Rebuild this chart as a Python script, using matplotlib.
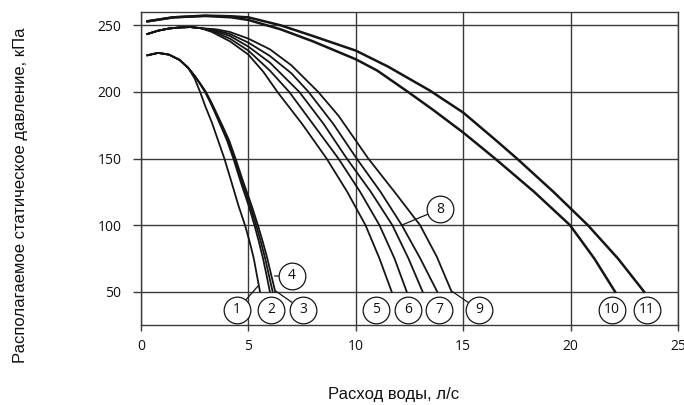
import matplotlib
matplotlib.use("Agg")
import matplotlib.pyplot as plt

# ---------------- data (flow l/s, pressure kPa) ----------------
c1_q = [0.3, 0.8, 1.3, 1.8, 2.2, 2.5, 2.75, 3.0, 3.3, 3.58, 3.88, 4.2, 4.53, 4.84, 5.05, 5.25, 5.4, 5.54]
c1_p = [227.5, 229.3, 228, 224, 218, 210, 200, 189, 177, 164, 150, 133, 115, 100, 88, 75, 62, 50]

c2_q = [0.3, 0.8, 1.3, 1.8, 2.2, 2.5, 2.75, 2.98, 3.2, 3.4, 3.7, 4.0, 4.3, 4.65, 5.03, 5.28, 5.48, 5.68, 5.85, 6.0]
c2_p = [227.5, 229.3, 228, 224, 218, 212, 206, 200, 193, 186, 175, 163.75, 150, 132, 113.75, 100, 88, 75, 62, 50]

c3_q = [0.3, 0.8, 1.3, 1.8, 2.2, 2.5, 2.76, 3.0, 3.22, 3.43, 3.74, 4.05, 4.35, 4.71, 5.1, 5.36, 5.57, 5.78, 5.96, 6.13]
c3_p = [227.5, 229.3, 228, 224, 218, 212, 206, 200, 193, 186, 175, 163.75, 150, 132, 113.75, 100, 88, 75, 62, 50]

c4_q = [0.3, 0.8, 1.3, 1.8, 2.2, 2.5, 2.77, 3.02, 3.25, 3.46, 3.78, 4.1, 4.4, 4.77, 5.17, 5.44, 5.66, 5.88, 6.07, 6.25]
c4_p = [227.5, 229.3, 228, 224, 218, 212, 206, 200, 193, 186, 175, 163.75, 150, 132, 113.75, 100, 88, 75, 62, 50]

c5_q = [0.3, 0.8, 1.3, 1.8, 2.3, 2.8, 3.3, 4.14, 5.0, 5.7, 6.35, 7.5, 8.64, 9.6, 10.45, 11.1, 11.67]
c5_p = [243.5, 246, 247.6, 248.4, 248.7, 247.8, 245, 238, 228, 215, 200, 176, 150, 125, 100, 75, 50]

c6_q = [0.3, 0.8, 1.3, 1.8, 2.3, 2.8, 3.35, 4.14, 5.0, 6.0, 6.9, 8.0, 9.19, 10.2, 11.1, 11.8, 12.37]
c6_p = [243.5, 246, 247.6, 248.4, 248.7, 247.8, 245.5, 240, 231, 216, 200, 176, 150, 125, 100, 75, 50]

c7_q = [0.3, 0.8, 1.3, 1.8, 2.3, 2.8, 3.4, 4.14, 5.0, 6.0, 7.37, 8.5, 9.58, 10.7, 11.7, 12.45, 13.11]
c7_p = [243.5, 246, 247.6, 248.4, 248.7, 247.8, 246, 242, 234, 222, 200, 176, 150, 125, 100, 75, 50]

c8_q = [0.3, 0.8, 1.3, 1.8, 2.3, 2.8, 3.45, 4.14, 5.0, 6.0, 7.0, 7.8, 8.95, 10.04, 11.15, 12.14, 13.0, 13.79]
c8_p = [243.5, 246, 247.6, 248.4, 248.7, 247.8, 246.5, 243.5, 237, 227, 214, 200, 176, 150, 125, 100, 75, 50]

c9_q = [0.3, 0.8, 1.3, 1.8, 2.3, 2.8, 3.5, 4.14, 5.0, 6.0, 7.0, 8.25, 9.2, 10.58, 11.8, 12.99, 13.77, 14.23, 14.46]
c9_p = [243.5, 246, 247.6, 248.4, 248.7, 247.8, 247, 245, 240, 232, 220, 200, 182, 150, 125, 100, 76.3, 58.75, 50]

c10_q = [0.3, 1.5, 3.0, 4.2, 5.0, 6.5, 8.0, 10.0, 11.0, 12.43, 13.6, 15.0, 16.48, 18.3, 19.97, 21.1, 22.07]
c10_p = [253, 256, 257, 256, 254, 247, 238, 224.5, 216, 200, 186.5, 169.5, 150, 125, 100, 75, 50]

c11_q = [0.3, 1.5, 3.0, 4.2, 5.0, 6.5, 8.0, 10.0, 11.5, 13.45, 15.0, 16.5, 17.5, 19.2, 20.8, 22.2, 23.42]
c11_p = [253, 256, 257.3, 256.8, 256, 250, 242, 231, 219, 201, 184.5, 164, 150, 125, 100, 75, 50]

curve_names = ["1", "2", "3", "4", "5", "6", "7", "8", "9", "10", "11"]

x_ticks = [0, 5, 10, 15, 20, 25]
y_ticks = [50, 100, 150, 200, 250]

x_label = "Расход воды, л/с"
y_label = "Располагаемое статическое давление, кПа"

# ---------------- layout / style ----------------
fig = plt.figure(figsize=(6.84, 4.05), dpi=100)
ax = fig.add_axes([141 / 684, 1 - 325 / 405, (678 - 141) / 684, (325 - 12) / 405])
ax.set_xlim(0, 25)
ax.set_ylim(25, 260)

grid_col = "#3a3a3a"
for s in ax.spines.values():
    s.set_color(grid_col)
    s.set_linewidth(1.0)
ax.set_xticks(x_ticks)
ax.set_yticks(y_ticks)
ax.grid(True, color=grid_col, linewidth=1.0, zorder=1)
ax.set_axisbelow(True)
ax.tick_params(axis="both", color=grid_col, width=1.0, labelsize=10,
               labelcolor="#111111")
ax.tick_params(axis="y", length=6, pad=8)
ax.tick_params(axis="x", length=4, pad=6)
for lbl in ax.get_xticklabels() + ax.get_yticklabels():
    lbl.set_fontfamily("Open Sans")

curves = [(c1_q, c1_p), (c2_q, c2_p), (c3_q, c3_p), (c4_q, c4_p), (c5_q, c5_p),
          (c6_q, c6_p), (c7_q, c7_p), (c8_q, c8_p), (c9_q, c9_p),
          (c10_q, c10_p), (c11_q, c11_p)]
for i, (q, p) in enumerate(curves):
    lw = 1.8 if i >= 9 else 1.3
    ax.plot(q, p, color="#151515", linewidth=lw, zorder=3, solid_joinstyle="round")

# label circles: (label position, optional leader target)
label_pos = {
    "1": (4.47, 36.3), "2": (6.05, 36.3), "3": (7.54, 36.3), "4": (7.03, 61.8),
    "5": (10.94, 36.3), "6": (12.43, 36.3), "7": (13.87, 36.3), "8": (13.92, 112),
    "9": (15.74, 36.3), "10": (21.93, 36.3), "11": (23.56, 36.3),
}
leader_to = {
    "1": (5.46, 54.5), "3": (6.27, 50.5), "4": (6.22, 61.8),
    "8": (12.14, 100), "9": (14.46, 50.5),
}
for name in curve_names:
    lx, ly = label_pos[name]
    if name in leader_to:
        ax.annotate("", xy=leader_to[name], xytext=(lx, ly),
                    arrowprops=dict(arrowstyle="-", color="#151515", lw=0.9,
                                    shrinkA=9.6, shrinkB=0), zorder=4)
    ax.plot([lx], [ly], marker="o", markersize=19.2, markerfacecolor="white",
            markeredgecolor="#151515", markeredgewidth=0.9, zorder=5, clip_on=False)
    ax.text(lx, ly, name, ha="center", va="center", fontsize=10,
            family="Open Sans", color="#111111", zorder=6)

fig.text(394 / 684, 1 - 395 / 405, x_label, ha="center", va="center",
         fontsize=12, family="Liberation Sans", color="#111111")
fig.text(21 / 684, 1 - 195 / 405, y_label, ha="center", va="center",
         rotation=90, fontsize=12, family="Liberation Sans", color="#111111")

fig.savefig("out.png", dpi=100, facecolor="white")
